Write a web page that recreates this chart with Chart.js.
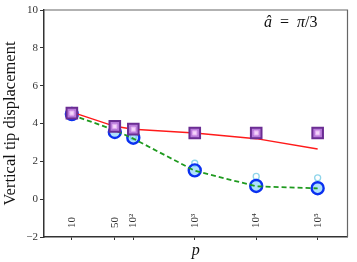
<!DOCTYPE html>
<html>
<head>
<meta charset="utf-8">
<script src="https://cdn.jsdelivr.net/npm/chart.js@4.4.0/dist/chart.umd.min.js"></script>
<style>
  html, body { margin: 0; padding: 0; background: #fff; }
  #wrap { width: 357px; height: 262px; }
</style>
</head>
<body>
<div id="wrap"><canvas id="myChart" width="357" height="262"></canvas></div>
<script>
// data
var pValues = [10, 50, 100, 1000, 10000, 100000];
var pLabels = ['10', '50', '10²', '10³', '10⁴', '10⁵'];
var squareVals = [4.55, 3.85, 3.7, 3.5, 3.5, 3.5];
var redLine = [4.6, 3.85, 3.7, 3.5, 3.2, 2.65];
var greenLine = [4.45, 3.65, 3.2, 1.5, 0.68, 0.57];
var blueCircles = [4.5, 3.55, 3.25, 1.52, 0.7, 0.58];
var cyanCircles = [4.45, 3.75, 3.3, 1.9, 1.2, 1.13];
var yTicks = [-2, 0, 2, 4, 6, 8, 10];

function pts(vals) {
  return pValues.map(function (p, i) { return { x: p, y: vals[i] }; });
}

var serif = "'Liberation Serif', 'DejaVu Serif', serif";

// rotated p labels inside the plot, frame, annotation
var extras = {
  id: 'extras',
  afterDraw: function (chart) {
    var ctx = chart.ctx, a = chart.chartArea, xs = chart.scales.x;
    ctx.save();
    // top & right frame
    ctx.strokeStyle = '#666';
    ctx.lineWidth = 1.2;
    ctx.beginPath();
    ctx.moveTo(a.left, a.top);
    ctx.lineTo(a.right, a.top);
    ctx.lineTo(a.right, a.bottom);
    ctx.stroke();
    // tick labels, read bottom to top
    ctx.fillStyle = '#333';
    ctx.font = '11px ' + serif;
    ctx.textAlign = 'left';
    ctx.textBaseline = 'middle';
    pValues.forEach(function (p, i) {
      var x = xs.getPixelForValue(p);
      ctx.save();
      ctx.translate(x, a.bottom - 9);
      ctx.rotate(-Math.PI / 2);
      ctx.fillText(pLabels[i], 0, 0);
      ctx.restore();
    });
    // annotation: â = π/3
    ctx.fillStyle = '#111';
    ctx.textBaseline = 'middle';
    var x0 = 264, y0 = 23;
    var parts = [['â', 'italic '], ['  =  ', ''], ['π', 'italic '], ['/3', '']];
    parts.forEach(function (pt) {
      ctx.font = pt[1] + '16px ' + serif;
      ctx.fillText(pt[0], x0, y0);
      x0 += ctx.measureText(pt[0]).width;
    });
    ctx.restore();
  }
};

var myChart = document.getElementById('myChart').getContext('2d');

var tipChart = new Chart(myChart, {
  type: 'scatter',
  data: {
    datasets: [
      {
        label: 'inner square',
        data: pts(squareVals),
        pointStyle: 'rect',
        pointRadius: 3,
        backgroundColor: '#f3d6fa',
        borderColor: '#e0a8f0',
        borderWidth: 1,
        order: 0
      },
      {
        label: 'squares',
        data: pts(squareVals),
        pointStyle: 'rect',
        pointRadius: 7.5,
        backgroundColor: '#b77ad9',
        borderColor: '#6b2d93',
        borderWidth: 2,
        order: 1
      },
      {
        label: 'red',
        type: 'line',
        data: pts(redLine),
        borderColor: '#ff1a1a',
        borderWidth: 1.5,
        pointRadius: 0,
        fill: false,
        order: 2
      },
      {
        label: 'green',
        type: 'line',
        data: pts(greenLine),
        borderColor: '#1f9a1f',
        borderWidth: 1.8,
        borderDash: [5, 3],
        pointRadius: 0,
        fill: false,
        order: 3
      },
      {
        label: 'blue',
        data: pts(blueCircles),
        pointStyle: 'circle',
        pointRadius: 6,
        backgroundColor: 'rgba(110,200,250,0.55)',
        borderColor: '#0a30f0',
        borderWidth: 2.4,
        order: 4
      },
      {
        label: 'cyan',
        data: pts(cyanCircles),
        pointStyle: 'circle',
        pointRadius: 3,
        backgroundColor: '#ffffff',
        borderColor: '#8fd5ea',
        borderWidth: 1.3,
        order: 5
      }
    ]
  },
  options: {
    responsive: false,
    animation: false,
    layout: { padding: { left: 0, right: 8, top: 10, bottom: 0 } },
    plugins: {
      legend: { display: false },
      tooltip: { enabled: false }
    },
    scales: {
      x: {
        type: 'logarithmic',
        min: 3.52,
        max: 306000,
        afterBuildTicks: function (scale) {
          scale.ticks = pValues.map(function (v) { return { value: v }; });
        },
        afterFit: function (scale) { scale.height = 25; },
        grid: { display: true, drawOnChartArea: false, drawTicks: true, tickLength: 3, color: '#333' },
        border: { display: true, color: '#333', width: 1.5 },
        ticks: { display: false },
        title: {
          display: true,
          text: 'p',
          color: '#111',
          font: { family: serif, size: 16, style: 'italic' },
          padding: { top: 0, bottom: 2 }
        }
      },
      y: {
        min: -2,
        max: 10,
        afterBuildTicks: function (scale) {
          scale.ticks = yTicks.map(function (v) { return { value: v }; });
        },
        afterFit: function (scale) { scale.width = 44; },
        grid: { display: true, drawOnChartArea: false, drawTicks: true, tickLength: 4, color: '#333' },
        border: { display: true, color: '#333', width: 1.5 },
        ticks: {
          color: '#333',
          padding: 2,
          font: { family: serif, size: 11 },
          callback: function (v) { return String(v).replace('-', '\u2212'); }
        },
        title: {
          display: true,
          text: 'Vertical tip displacement',
          color: '#111',
          font: { family: serif, size: 16.5 },
          padding: { top: 1, bottom: 0 }
        }
      }
    }
  },
  plugins: [extras]
});
</script>
</body>
</html>
